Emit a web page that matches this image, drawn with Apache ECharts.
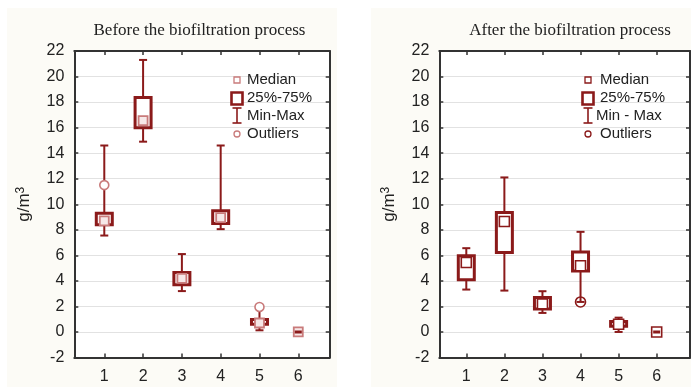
<!DOCTYPE html>
<html>
<head>
<meta charset="utf-8">
<script src="https://cdn.jsdelivr.net/npm/echarts@6/dist/echarts.min.js"></script>
<style>
  html, body { margin: 0; padding: 0; background: #ffffff; }
  #chart { width: 692px; height: 387px; }
</style>
</head>
<body>
<div id="chart"></div>
<script>
// Sample groups on the x axis
const categories = [1, 2, 3, 4, 5, 6];
const yTicks = { min: -2, max: 22, step: 2 };

// Before the biofiltration process (g/m3)
const beforeMin    = [7.55, 14.9, 3.2, 8.05, 0.13, 0];
const beforeQ1     = [8.4, 16.0, 3.7, 8.5, 0.6, 0];
const beforeMedian = [8.7, 16.55, 4.2, 8.95, 0.7, 0];
const beforeQ3     = [9.3, 18.35, 4.65, 9.5, 0.97, 0];
const beforeMax    = [14.6, 21.3, 6.1, 14.6, 1.85, 0];
const beforeOutliers = [[1, 11.5], [5, 1.96]];

// After the biofiltration process (g/m3)
const afterMin    = [3.32, 3.24, 1.49, 2.35, 0.0, 0];
const afterQ1     = [4.08, 6.22, 1.8, 4.78, 0.45, 0];
const afterMedian = [5.44, 8.65, 2.2, 5.18, 0.6, 0];
const afterQ3     = [5.96, 9.36, 2.69, 6.27, 0.81, 0];
const afterMax    = [6.56, 12.1, 3.19, 7.84, 1.12, 0];
const afterOutliers = [[4, 2.35]];

const titles = ['Before the biofiltration process', 'After the biofiltration process'];
const legendLabels = [
  ['Median', '25%-75%', 'Min-Max', 'Outliers'],
  ['Median', '25%-75%', 'Min - Max', 'Outliers']
];

const DARK = '#8b1a1a';
const PINK = '#c97b7b';
const AXIS = '#333333';
const TEXT = '#222222';
const SANS = '"Liberation Sans", Arial, sans-serif';
const SERIF = '"Liberation Serif", "Times New Roman", serif';

// Plot areas
const panels = [
  { left: 74.3, top: 51, width: 255.4, height: 306.5, xMin: 0.227, xMax: 6.81,
    bg: [7, 8, 330, 379], titleX: 199.5, nameGap: 40,
    style: { med: PINK, medFill: '#f6e8e8', medSize: 9, medWidth: 1.8, outlierColor: PINK, outlierSize: 9, outlierZ: 4 },
    legendX: 237, textX: 247 },
  { left: 439.3, top: 51, width: 250.7, height: 306.5, xMin: 0.291, xMax: 6.875,
    bg: [371, 8, 320, 379], titleX: 570, nameGap: 40,
    style: { med: DARK, medFill: '#ffffff', medSize: 10, medWidth: 1.6, outlierColor: DARK, outlierSize: 10, outlierZ: 1 },
    legendX: 588, textX: 600 }
];

function boxRenderer(st) {
  return function (params, api) {
    const x = api.value(0);
    const pt = (i) => api.coord([x, api.value(i)]);
    const pMin = pt(1), pQ1 = pt(2), pMed = pt(3), pQ3 = pt(4), pMax = pt(5);
    const cx = pMed[0];
    const flat = Math.abs(pQ1[1] - pQ3[1]) < 0.5;
    const hw = flat ? 3.5 : 8;
    const cap = 4;
    const ws = { stroke: DARK, lineWidth: 2 };
    const parts = [];
    if (pMax[1] < pQ3[1] - 0.5) {
      parts.push({ type: 'line', shape: { x1: cx, y1: pMax[1], x2: cx, y2: pQ3[1] }, style: ws });
      parts.push({ type: 'line', shape: { x1: cx - cap, y1: pMax[1], x2: cx + cap, y2: pMax[1] }, style: ws });
    }
    if (pMin[1] > pQ1[1] + 0.5) {
      parts.push({ type: 'line', shape: { x1: cx, y1: pQ1[1], x2: cx, y2: pMin[1] }, style: ws });
      parts.push({ type: 'line', shape: { x1: cx - cap, y1: pMin[1], x2: cx + cap, y2: pMin[1] }, style: ws });
    }
    const box = { type: 'rect', shape: { x: cx - hw, y: pQ3[1], width: hw * 2, height: pQ1[1] - pQ3[1] },
      style: { fill: '#ffffff', stroke: DARK, lineWidth: 3 } };
    const m = st.medSize;
    const med = { type: 'rect', shape: { x: cx - m / 2, y: pMed[1] - m / 2, width: m, height: m },
      style: { fill: st.medFill, stroke: st.med, lineWidth: st.medWidth } };
    if (flat) { parts.push(med, box); } else { parts.push(box, med); }
    return { type: 'group', children: parts };
  };
}

const xAxis = [], yAxis = [], grid = [], series = [], graphic = [];
const groups = [
  { min: beforeMin, q1: beforeQ1, med: beforeMedian, q3: beforeQ3, max: beforeMax, out: beforeOutliers },
  { min: afterMin, q1: afterQ1, med: afterMedian, q3: afterQ3, max: afterMax, out: afterOutliers }
];

panels.forEach((p, k) => {
  grid.push({ left: p.left, top: p.top, width: p.width, height: p.height,
    show: true, backgroundColor: '#ffffff', borderWidth: 0 });

  const axLine = { show: true, onZero: false, lineStyle: { color: AXIS, width: 2 } };
  const tick = { show: true, inside: true, length: 4, lineStyle: { color: AXIS, width: 1.5 } };

  xAxis.push({ type: 'value', gridIndex: k, position: 'bottom', min: p.xMin, max: p.xMax,
    axisLine: axLine, splitLine: { show: false },
    axisTick: Object.assign({ customValues: categories }, tick),
    axisLabel: { customValues: categories, margin: 11, fontSize: 16, color: TEXT, fontFamily: SANS } });
  xAxis.push({ type: 'value', gridIndex: k, position: 'top', min: p.xMin, max: p.xMax,
    axisLine: axLine, splitLine: { show: false },
    axisTick: Object.assign({ customValues: categories }, tick),
    axisLabel: { show: false } });

  yAxis.push({ type: 'value', gridIndex: k, position: 'left', min: yTicks.min, max: yTicks.max, interval: yTicks.step,
    axisLine: axLine, axisTick: tick,
    splitLine: { show: true, lineStyle: { color: '#e2e2e2', width: 1 } },
    axisLabel: { margin: 10, fontSize: 16, color: TEXT, fontFamily: SANS },
    name: 'g/m{sup|3}', nameLocation: 'middle', nameGap: p.nameGap,
    nameTextStyle: { fontSize: 17, color: TEXT, fontFamily: SANS,
      rich: { sup: { fontSize: 12, color: TEXT, fontFamily: SANS, verticalAlign: 'top', padding: [0, 0, 8, 0] } } } });
  yAxis.push({ type: 'value', gridIndex: k, position: 'right', min: yTicks.min, max: yTicks.max, interval: yTicks.step,
    axisLine: axLine, axisTick: tick, splitLine: { show: false }, axisLabel: { show: false } });

  const g = groups[k];
  series.push({
    type: 'custom', xAxisIndex: k * 2, yAxisIndex: k * 2, z: 3,
    renderItem: boxRenderer(p.style),
    encode: { x: 0, y: [1, 2, 3, 4, 5] },
    data: categories.map((c, i) => [c, g.min[i], g.q1[i], g.med[i], g.q3[i], g.max[i]])
  });
  series.push({
    type: 'scatter', xAxisIndex: k * 2, yAxisIndex: k * 2, z: p.style.outlierZ,
    symbol: 'circle', symbolSize: p.style.outlierSize,
    itemStyle: { color: '#ffffff', borderColor: p.style.outlierColor, borderWidth: 1.6, opacity: 1 },
    data: g.out
  });

  // Panel background
  graphic.push({ type: 'rect', z: -100, silent: true,
    shape: { x: p.bg[0], y: p.bg[1], width: p.bg[2], height: p.bg[3] },
    style: { fill: '#fcfbf6' } });

  // Panel title
  graphic.push({ type: 'text', z: 100, x: p.titleX, y: 31,
    style: { text: titles[k], font: '17px ' + SERIF, fill: TEXT, textAlign: 'center', textVerticalAlign: 'middle' } });

  // Legend
  const lx = p.legendX;
  const col = p.style.med;
  const rows = [80, 98, 116, 134];
  graphic.push({ type: 'rect', z: 100, shape: { x: lx - 3, y: rows[0] - 3, width: 6, height: 6 },
    style: { fill: '#ffffff', stroke: col, lineWidth: 1.3 } });
  graphic.push({ type: 'rect', z: 100, shape: { x: lx - 5.5, y: rows[1] - 5.5, width: 11, height: 12 },
    style: { fill: '#ffffff', stroke: DARK, lineWidth: 2.6 } });
  graphic.push({ type: 'group', z: 100, children: [
    { type: 'line', shape: { x1: lx, y1: rows[2] - 8, x2: lx, y2: rows[2] + 7 }, style: { stroke: DARK, lineWidth: 1.6 } },
    { type: 'line', shape: { x1: lx - 4.5, y1: rows[2] - 8, x2: lx + 4.5, y2: rows[2] - 8 }, style: { stroke: DARK, lineWidth: 1.6 } },
    { type: 'line', shape: { x1: lx - 4.5, y1: rows[2] + 7, x2: lx + 4.5, y2: rows[2] + 7 }, style: { stroke: DARK, lineWidth: 1.6 } }
  ] });
  graphic.push({ type: 'circle', z: 100, shape: { cx: lx, cy: rows[3], r: 3 },
    style: { fill: '#ffffff', stroke: p.style.outlierColor, lineWidth: 1.3 } });
  legendLabels[k].forEach((t, i) => {
    const tx = (k === 1 && i === 2) ? p.textX - 4 : p.textX;
    graphic.push({ type: 'text', z: 100, x: tx, y: rows[i],
      style: { text: t, font: '15px ' + SANS, fill: TEXT, textVerticalAlign: 'middle', textAlign: 'left' } });
  });
});

const chart = echarts.init(document.getElementById('chart'), null, { renderer: 'canvas' });
chart.setOption({
  backgroundColor: '#ffffff',
  animation: false,
  grid, xAxis, yAxis, series, graphic
});
</script>
</body>
</html>
